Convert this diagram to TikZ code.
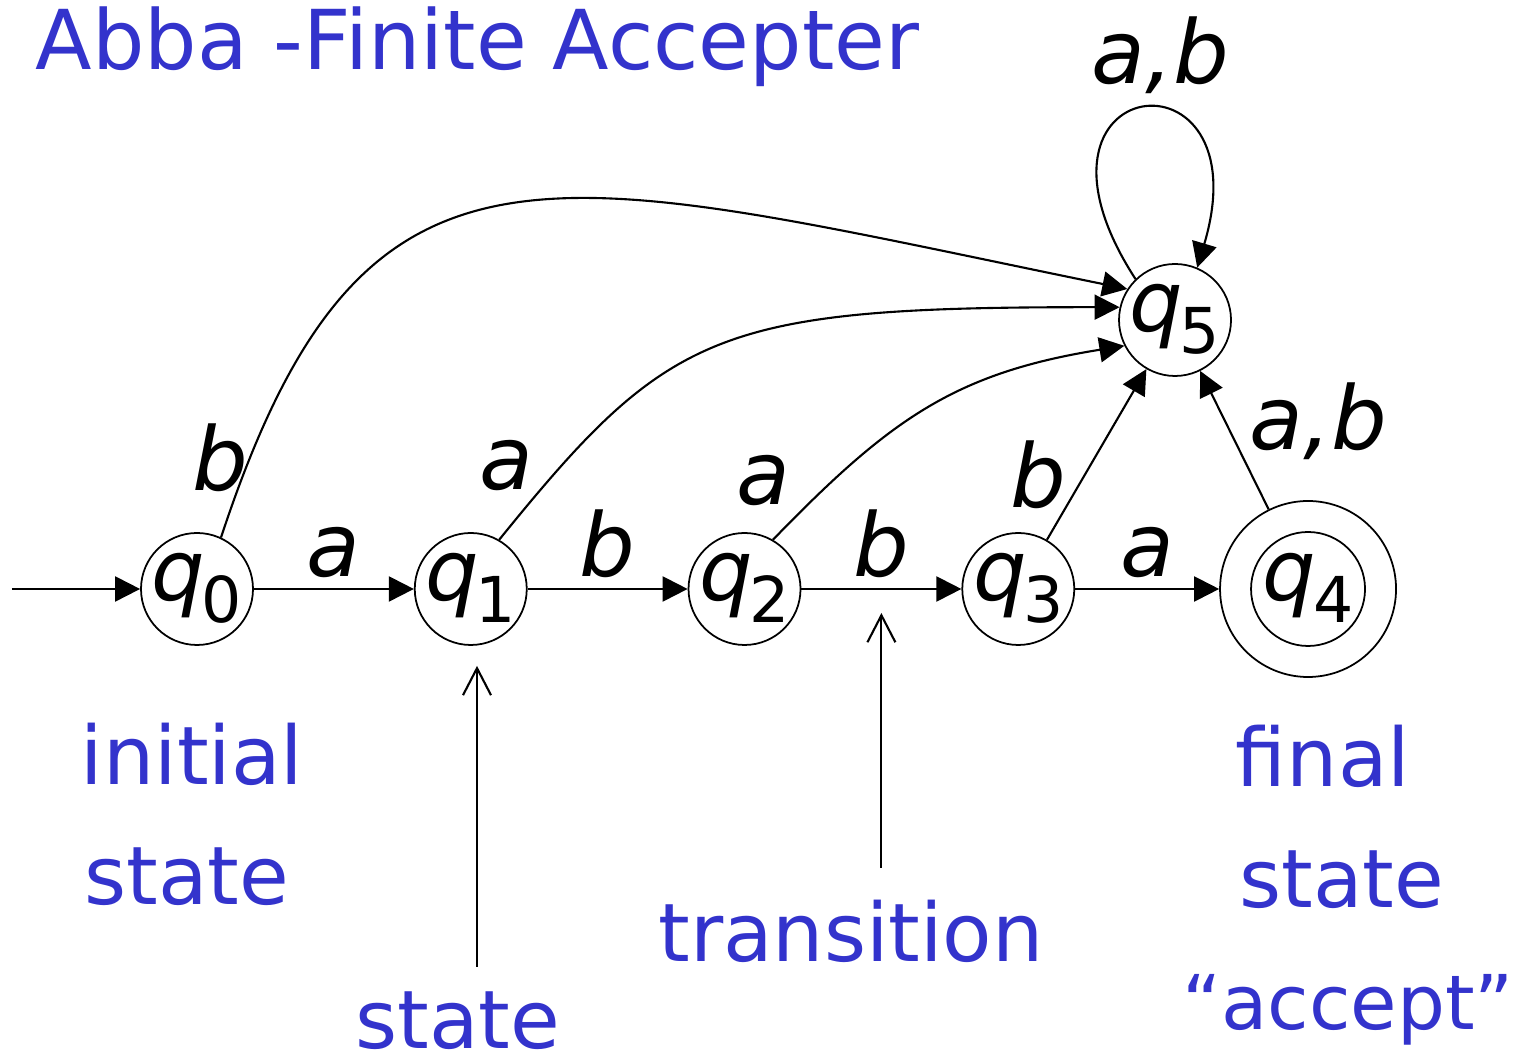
\documentclass[tikz,border=0pt]{standalone}
\usepackage{fontspec}
\setmainfont{DejaVu Sans}
\usetikzlibrary{arrows.meta, positioning, calc}
\definecolor{notecolor}{RGB}{51,51,204}
\newcommand{\qst}[1]{\raisebox{-0.12cm}[0pt][0pt]{\makebox[0pt]{\textit{q}\kern-0.04em\raisebox{-0.22cm}{\fontsize{18}{18}\selectfont #1}}}}

\begin{document}
\begin{tikzpicture}[node distance=1.6cm,
    state/.style={circle, draw, line width=0.5pt, minimum size=1.12cm, inner sep=0pt, font=\fontsize{24}{24}\selectfont},
    finalstate/.style={state, minimum size=1.76cm, path picture={\draw[line width=0.5pt] (path picture bounding box.center) circle (0.57cm);}},
    lbl/.style={inner sep=0pt, font=\fontsize{25}{25}\selectfont\itshape},
    note/.style={inner sep=0pt, text=notecolor, font=\fontsize{23}{23}\selectfont},
    arrow/.style={-{Triangle[length=0.25cm, width=0.25cm]}, line width=0.6pt},
    pointer/.style={-{Straight Barb[length=0.27cm, width=0.28cm]}, line width=0.6pt}]
    \useasboundingbox (0,0) rectangle (15.22,10.6);

    % Title
    \node [note, anchor=base west, font=\fontsize{23.5}{23.5}\selectfont] (title) at (0.35,9.90) {Abba -Finite Accepter};

    % States
    \node [state] (q0) at (1.97,4.71) {\qst{0}};
    \node [state, right=of q0] (q1) {\qst{1}};
    \node [state, right=of q1] (q2) {\qst{2}};
    \node [state, right=of q2] (q3) {\qst{3}};
    \node [finalstate, right=1.44cm of q3] (q4) {\qst{4}};
    \node [state] (q5) at (11.75,7.40) {\qst{5}};

    % Transitions
    \coordinate (start) at (0.12,4.71);
    \draw [arrow] (start) -- (q0);
    \draw [arrow] (q0) -- node [lbl, above=0.1cm] (t01) {a} (q1);
    \draw [arrow] (q1) -- node [lbl, above=0.1cm] (t12) {b} (q2);
    \draw [arrow] (q2) -- node [lbl, above=0.1cm] (t23) {b} coordinate [midway] (mid23) (q3);
    \draw [arrow] (q3) -- node [lbl, above=0.1cm] (t34) {a} (q4);
    \draw [arrow] (q0.65) .. controls (3.65,9.6) and (5.45,8.9) .. (q5.147);
    \draw [arrow] (q1.60) .. controls (6.69,7.30) and (7.17,7.53) .. (q5.167);
    \draw [arrow] (q2.60) .. controls (8.90,6.41) and (9.55,6.87) .. (q5.207);
    \draw [arrow] (q3) -- (q5);
    \draw [arrow] (q4) -- (q5);
    \draw [arrow] (q5.134) .. controls (10.0,9.9) and (12.65,10.2) .. (q5.67);

    % Labels on the curved transitions
    \node [lbl] (t05) at (2.20,6.02) {b};
    \node [lbl] (t15) at (5.06,5.94) {a};
    \node [lbl] (t25) at (7.63,5.79) {a};
    \node [lbl] (t35) at (10.38,5.85) {b};
    \node [lbl] (t45) at (13.18,6.39) {a,b};
    \node [lbl] (t55) at (11.60,10.05) {a,b};

    % Notes
    \node [note, anchor=base] (initTxt) at (1.92,2.75) {initial};
    \node [note, anchor=base] (initTxt2) at (1.87,1.55) {state};
    \node [note, anchor=base] (stateTxt) at (4.58,0.12) {state};
    \node [note, anchor=base] (transTxt) at (8.51,0.98) {transition};
    \node [note, anchor=base] (finTxt) at (13.23,2.73) {final};
    \node [note, anchor=base] (finTxt2) at (13.42,1.52) {state};
    \node [note, anchor=base, font=\fontsize{21.5}{21.5}\selectfont] (accTxt) at (13.48,0.30) {“accept”};

    % Pointers
    \coordinate (stTail) at ([xshift=0.19cm, yshift=0.24cm]stateTxt.north);
    \coordinate (trTail) at ($(transTxt.north -| mid23)+(0,0.32)$);
    \draw [pointer] (stTail) -- ($(q1.south -| stTail)+(0,-0.2)$);
    \draw [pointer] (trTail) -- ($(mid23)+(0,-0.24)$);

\end{tikzpicture}
\end{document}
